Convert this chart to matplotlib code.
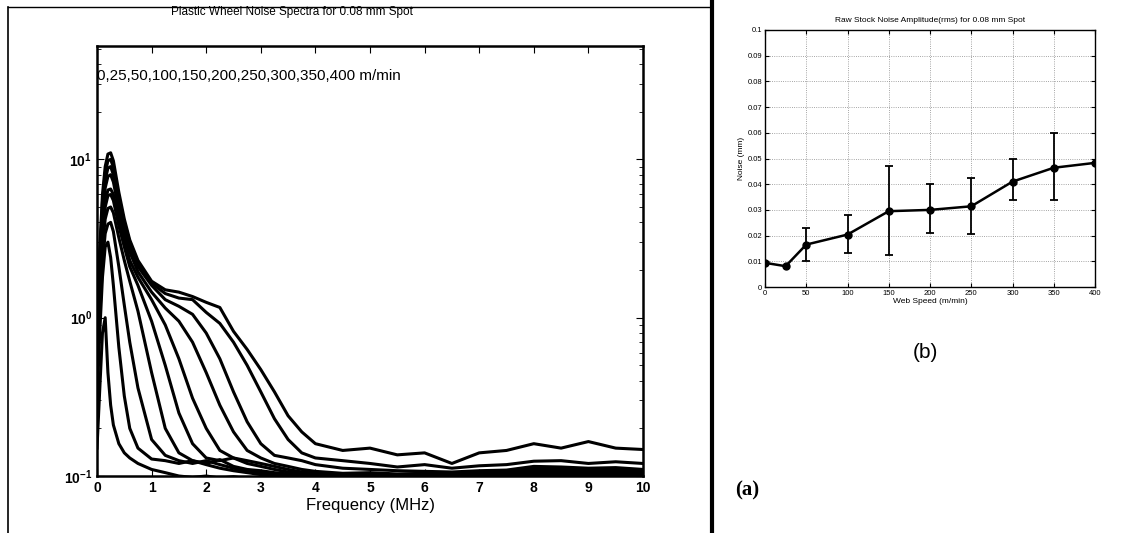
import matplotlib
matplotlib.use("Agg")
import matplotlib.pyplot as plt
from matplotlib.ticker import LogLocator, NullFormatter

plt.rcParams['font.family'] = ['Liberation Sans', 'DejaVu Sans']

# --- left panel: noise spectra, one curve per web speed ---
freq = [0, 0.05, 0.1, 0.15, 0.2, 0.25, 0.3, 0.4, 0.5, 0.6, 0.75, 1.0,
        1.25, 1.5, 1.75, 2.0, 2.25, 2.5, 2.75, 3.0, 3.25, 3.5, 3.75, 4.0,
        4.5, 5.0, 5.5, 6.0, 6.5, 7.0, 7.5, 8.0, 8.5, 9.0, 9.5, 10.0]

s0 = [0.15, 0.35, 0.8, 1.0, 0.45, 0.28, 0.21, 0.16, 0.14, 0.13, 0.12, 0.11,
      0.105, 0.10, 0.098, 0.10, 0.097, 0.099, 0.096, 0.098, 0.097, 0.099, 0.098, 0.097,
      0.098, 0.099, 0.097, 0.098, 0.099, 0.097, 0.098, 0.099, 0.098, 0.097, 0.098, 0.099]
s25 = [0.3, 0.8, 1.8, 2.8, 3.0, 2.4, 1.6, 0.65, 0.32, 0.2, 0.15, 0.128,
       0.125, 0.12, 0.125, 0.118, 0.112, 0.108, 0.105, 0.102, 0.10, 0.099, 0.10, 0.098,
       0.099, 0.10, 0.098, 0.099, 0.10, 0.098, 0.10, 0.102, 0.10, 0.101, 0.10, 0.099]
s50 = [0.4, 1.0, 2.2, 3.4, 3.9, 4.0, 3.5, 2.1, 1.2, 0.7, 0.36, 0.17,
       0.135, 0.125, 0.12, 0.125, 0.118, 0.112, 0.108, 0.105, 0.102, 0.10, 0.101, 0.10,
       0.099, 0.10, 0.101, 0.099, 0.10, 0.102, 0.10, 0.104, 0.103, 0.102, 0.101, 0.10]
s100 = [0.5, 1.3, 2.8, 4.2, 4.9, 5.0, 4.6, 3.2, 2.3, 1.7, 1.1, 0.45,
        0.2, 0.14, 0.125, 0.12, 0.127, 0.115, 0.11, 0.108, 0.105, 0.103, 0.102, 0.10,
        0.101, 0.10, 0.102, 0.10, 0.101, 0.103, 0.102, 0.106, 0.105, 0.104, 0.103, 0.102]
s150 = [0.6, 1.5, 3.3, 5.0, 5.9, 6.0, 5.5, 3.8, 2.8, 2.1, 1.6, 0.95,
        0.5, 0.25, 0.16, 0.13, 0.125, 0.13, 0.12, 0.115, 0.11, 0.106, 0.104, 0.102,
        0.103, 0.101, 0.10, 0.102, 0.101, 0.104, 0.103, 0.108, 0.107, 0.105, 0.106, 0.104]
s200 = [0.6, 1.7, 3.6, 5.4, 6.4, 6.5, 6.0, 4.2, 3.1, 2.3, 1.8, 1.3,
        0.9, 0.55, 0.31, 0.2, 0.145, 0.13, 0.125, 0.12, 0.115, 0.11, 0.106, 0.104,
        0.102, 0.103, 0.101, 0.103, 0.102, 0.105, 0.104, 0.11, 0.109, 0.107, 0.108, 0.106]
s250 = [0.7, 2.0, 4.3, 6.6, 7.8, 8.0, 7.2, 4.8, 3.5, 2.6, 1.95, 1.45,
        1.15, 0.95, 0.7, 0.45, 0.28, 0.19, 0.145, 0.13, 0.12, 0.115, 0.11, 0.107,
        0.104, 0.105, 0.103, 0.104, 0.103, 0.106, 0.106, 0.112, 0.111, 0.109, 0.11, 0.108]
s300 = [0.7, 2.2, 4.8, 7.4, 8.8, 9.0, 8.0, 5.3, 3.7, 2.8, 2.1, 1.6,
        1.3, 1.18, 1.05, 0.8, 0.55, 0.34, 0.22, 0.16, 0.135, 0.13, 0.125, 0.118,
        0.112, 0.11, 0.108, 0.107, 0.106, 0.108, 0.109, 0.115, 0.114, 0.112, 0.113, 0.11]
s350 = [0.8, 2.5, 5.4, 8.2, 9.8, 10.0, 8.9, 5.8, 4.0, 3.0, 2.2, 1.65,
        1.42, 1.33, 1.3, 1.08, 0.92, 0.7, 0.5, 0.34, 0.23, 0.17, 0.14, 0.13,
        0.125, 0.12, 0.114, 0.118, 0.112, 0.116, 0.118, 0.124, 0.125, 0.12, 0.123, 0.12]
s400 = [0.8, 2.7, 6.0, 9.0, 10.8, 11.0, 9.8, 6.2, 4.2, 3.1, 2.3, 1.7,
        1.5, 1.45, 1.36, 1.25, 1.16, 0.82, 0.63, 0.47, 0.34, 0.24, 0.19, 0.16,
        0.145, 0.15, 0.136, 0.14, 0.12, 0.14, 0.145, 0.16, 0.15, 0.165, 0.15, 0.147]
spectra = [s0, s25, s50, s100, s150, s200, s250, s300, s350, s400]

# --- right panel: rms noise vs web speed ---
speed = [0, 25, 50, 100, 150, 200, 250, 300, 350, 400]
noise = [0.0094, 0.0081, 0.0165, 0.0204, 0.0295, 0.0300, 0.0314, 0.0410, 0.0464, 0.0483]
err_hi = [0.0094, 0.0081, 0.0231, 0.0279, 0.0470, 0.0401, 0.0425, 0.0499, 0.0600, 0.0483]
err_lo = [0.0094, 0.0081, 0.0100, 0.0132, 0.0123, 0.0210, 0.0208, 0.0338, 0.0340, 0.0483]

W, H = 1125, 533
fig = plt.figure(figsize=(W / 100, H / 100), dpi=100)

def fx(px):
    return px / W

def fy(py):
    return 1 - py / H

# frame lines of the scanned page
fig.add_artist(plt.Line2D([fx(8), fx(8)], [0, fy(7)], color='black', lw=1.2))
fig.add_artist(plt.Line2D([fx(8), fx(712)], [fy(7), fy(7)], color='black', lw=1.0))
fig.add_artist(plt.Line2D([fx(712), fx(712)], [0, 1], color='black', lw=3.0))

ax = fig.add_axes([fx(97), fy(476), fx(643) - fx(97), fy(46) - fy(476)])
for s in spectra:
    ax.plot(freq, s, color='black', lw=2.2, clip_on=True)
ax.set_yscale('log')
ax.set_xlim(0, 10)
ax.set_ylim(0.1, 52)
ax.set_xticks(range(0, 11))
ax.yaxis.set_major_locator(LogLocator(base=10, numticks=5))
ax.yaxis.set_minor_locator(LogLocator(base=10, subs=range(2, 10), numticks=10))
ax.yaxis.set_minor_formatter(NullFormatter())
ax.tick_params(direction='in', top=True, right=True, length=5, labelsize=10)
ax.tick_params(which='minor', direction='in', right=True, length=3)
for lab in ax.get_xticklabels() + ax.get_yticklabels():
    lab.set_fontweight('bold')
for sp in ax.spines.values():
    sp.set_linewidth(1.8)
ax.set_xlabel("Frequency (MHz)", fontsize=12, labelpad=2)
ax.text(0.0, 0.93, "0,25,50,100,150,200,250,300,350,400 m/min",
        transform=ax.transAxes, fontsize=11, va='center', ha='left')
fig.text(fx(292), fy(12), "Plastic Wheel Noise Spectra for 0.08 mm Spot",
         fontsize=8.5, ha='center', va='center')
fig.text(fx(747), fy(490), "(a)", fontsize=15, fontweight='bold',
         family=['Liberation Serif', 'DejaVu Serif'], ha='center', va='center')

# right panel
ax2 = fig.add_axes([fx(765), fy(287), fx(1095) - fx(765), fy(30) - fy(287)])
yerr = [[n - lo for n, lo in zip(noise, err_lo)], [hi - n for n, hi in zip(noise, err_hi)]]
ax2.errorbar(speed, noise, yerr=yerr, color='black', lw=1.8, marker='o', ms=5,
             capsize=3, elinewidth=1.3, capthick=1.3)
ax2.set_xlim(0, 400)
ax2.set_ylim(0, 0.1)
ax2.set_xticks(range(0, 401, 50))
ax2.set_yticks([i / 100 for i in range(11)])
ax2.set_yticklabels(['0'] + ['%g' % (i / 100) for i in range(1, 11)])
ax2.grid(True, linestyle=':', color='#888888', lw=0.6)
ax2.tick_params(direction='in', top=True, right=True, length=3, labelsize=5.5, pad=2)
for sp in ax2.spines.values():
    sp.set_linewidth(1.0)
ax2.set_xlabel("Web Speed (m/min)", fontsize=6, labelpad=1)
ax2.set_ylabel("Noise (mm)", fontsize=6, labelpad=2)
ax2.set_title("Raw Stock Noise Amplitude(rms) for 0.08 mm Spot", fontsize=6, pad=6)
fig.text(fx(925), fy(352), "(b)", fontsize=15, ha='center', va='center')

fig.savefig("out.png", dpi=100)
